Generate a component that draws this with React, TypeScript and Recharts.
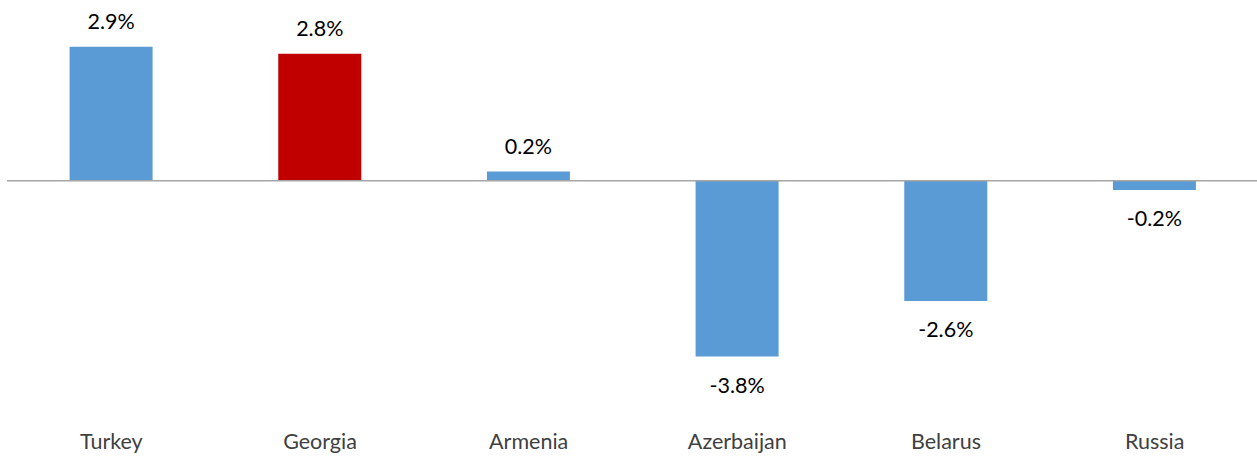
import { BarChart, Bar, XAxis, YAxis, ReferenceLine, LabelList, Cell } from "recharts";

const countries = ["Turkey", "Georgia", "Armenia", "Azerbaijan", "Belarus", "Russia"];
const growth = [2.9, 2.75, 0.2, -3.8, -2.6, -0.2];
const highlight = "Georgia";

const BLUE = "#5b9bd5";
const RED = "#c00000";
const FONT = "Lato, 'Open Sans', sans-serif";

const data = countries.map((country, i) => ({ country, value: growth[i] }));

// 正负值标签分别放在柱子的上方/下方
function ValueLabel(props: any) {
  const { x, y, width, height, value } = props;
  const top = Math.min(y, y + height);
  const bottom = Math.max(y, y + height);
  const cy = value >= 0 ? top - 26 : bottom + 28;
  return (
    <text
      x={x + width / 2}
      y={cy}
      textAnchor="middle"
      dominantBaseline="central"
      fontSize={21.5}
      fontFamily={FONT}
      fill="#000"
    >
      {`${Number(value).toFixed(1)}%`}
    </text>
  );
}

export default function App() {
  return (
    <div style={{ position: "absolute", left: 0, top: 0, width: 1257, height: 466, overflow: "hidden", background: "#fff" }}>
      <BarChart
        width={1259}
        height={466}
        data={data}
        margin={{ top: 19, right: 0, bottom: 0, left: 7 }}
        barCategoryGap="30%"
      >
        <XAxis
          dataKey="country"
          axisLine={false}
          tickLine={false}
          height={54}
          tickMargin={16}
          tick={{ fontSize: 21.5, fill: "#404040", fontFamily: FONT }}
          interval={0}
        />
        <YAxis hide domain={[-5, 3.5]} />
        <ReferenceLine y={0} stroke="#a6a6a6" strokeWidth={1.5} />
        <Bar dataKey="value" isAnimationActive={false}>
          {data.map((d) => (
            <Cell key={d.country} fill={d.country === highlight ? RED : BLUE} />
          ))}
          <LabelList dataKey="value" content={ValueLabel} />
        </Bar>
      </BarChart>
    </div>
  );
}
